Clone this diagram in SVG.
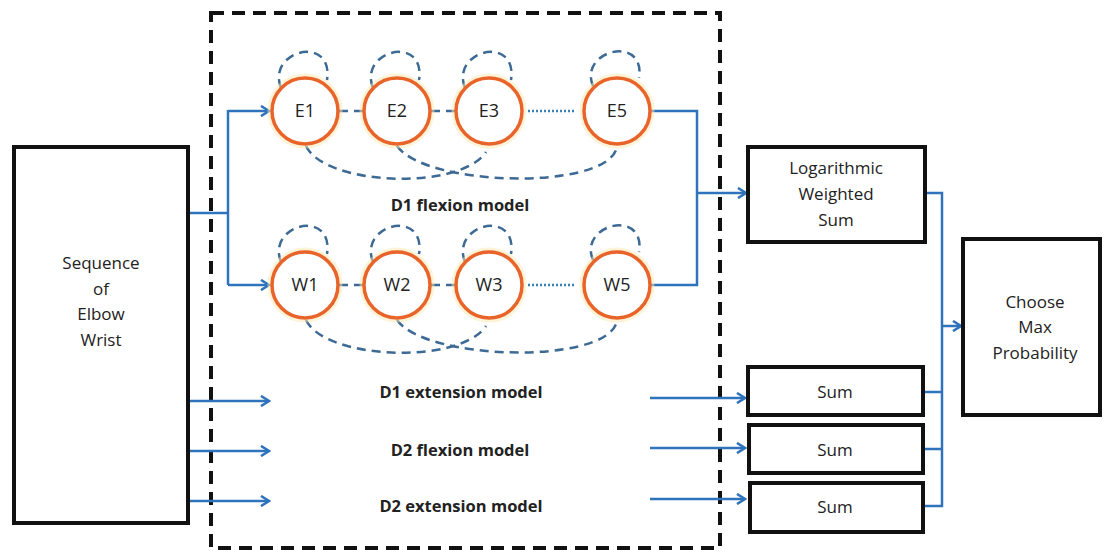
<svg xmlns="http://www.w3.org/2000/svg" width="1104" height="554" viewBox="0 0 1104 554">
<defs>
<marker id="arr" viewBox="0 0 12 12" refX="10" refY="6" markerWidth="12" markerHeight="12" markerUnits="userSpaceOnUse" orient="auto">
<path d="M2,1 L10,6 L2,11" fill="none" stroke="#2f73bd" stroke-width="2.6" stroke-linejoin="miter"/>
</marker>
</defs>
<style>
.box{fill:#fff;stroke:#111;stroke-width:4}
.frame{fill:none;stroke:#111;stroke-width:4;stroke-dasharray:13 8}
.st{fill:#fff;stroke:#e8642a;stroke-width:3.5}
.glow{fill:none;stroke:#fbe7b0;stroke-width:7;opacity:0.5}
.t{font-family:"Open Sans","Noto Sans",sans-serif;font-size:17px;fill:#222;text-anchor:middle}
.n{font-family:"Open Sans","Noto Sans",sans-serif;font-size:18px;fill:#222;text-anchor:middle}
.b{font-family:"Open Sans","Noto Sans",sans-serif;font-size:16.5px;font-weight:bold;fill:#222;text-anchor:middle}
.ln{fill:none;stroke:#2f73bd;stroke-width:2.5}
.ar{fill:none;stroke:#2f73bd;stroke-width:2.5;marker-end:url(#arr)}
.dl{fill:none;stroke:#3d6a94;stroke-width:2.5;stroke-dasharray:9 6}
.dt{fill:none;stroke:#3d7fb0;stroke-width:2.5;stroke-dasharray:2 2}
</style>
<rect class="frame" x="211" y="13" width="509" height="535"/>
<g id="connectors">
<path class="ln" d="M188,213 H228 M228,110 V285"/>
<path class="ar" d="M228,111 H269"/>
<path class="ar" d="M228,285 H269"/>
<path class="ln" d="M651,111 H697 V285 H651"/>
<path class="ar" d="M697,193 H746"/>
<path class="ar" d="M188,401 H269"/>
<path class="ar" d="M188,451 H269"/>
<path class="ar" d="M188,501 H269"/>
<path class="ar" d="M650,398 H745"/>
<path class="ar" d="M650,448 H745"/>
<path class="ar" d="M650,499 H745"/>
<path class="ln" d="M925,193 H942 V506 H923 M923,449 H942 M923,392 H942"/>
<path class="ar" d="M942,326 H961"/>
<path class="dl" d="M339,111 H364 M431,111 H456"/>
<path class="dt" d="M528,111 H574"/>
<path class="dl" d="M281,88 C266,50 334,34 327,80"/>
<path class="dl" d="M373,88 C358,50 426,34 419,80"/>
<path class="dl" d="M465,88 C450,50 518,34 511,80"/>
<path class="dl" d="M593,86 C578,50 646,34 639,78"/>
<path class="dl" d="M306,146 C325,186 460,191 486,152"/>
<path class="dl" d="M397,146 C425,186 600,191 616,150"/>
<path class="dl" d="M339,285 H364 M431,285 H456"/>
<path class="dt" d="M528,285 H574"/>
<path class="dl" d="M281,262 C266,224 334,208 327,254"/>
<path class="dl" d="M373,262 C358,224 426,208 419,254"/>
<path class="dl" d="M465,262 C450,224 518,208 511,254"/>
<path class="dl" d="M593,260 C578,224 646,208 639,252"/>
<path class="dl" d="M306,320 C325,360 460,365 486,326"/>
<path class="dl" d="M397,320 C425,360 600,365 616,324"/>
</g>
<g id="seq"><rect class="box" x="14" y="147" width="174" height="376"/>
<text class="t" x="101" y="269">Sequence</text><text class="t" x="101" y="295">of</text><text class="t" x="101" y="320">Elbow</text><text class="t" x="101" y="346">Wrist</text></g>
<g id="E1"><circle class="glow" cx="305" cy="111" r="34"/><circle class="st" cx="305" cy="111" r="33"/><text class="n" x="305" y="117">E1</text></g>
<g id="E2"><circle class="glow" cx="397" cy="111" r="34"/><circle class="st" cx="397" cy="111" r="33"/><text class="n" x="397" y="117">E2</text></g>
<g id="E3"><circle class="glow" cx="489" cy="111" r="34"/><circle class="st" cx="489" cy="111" r="33"/><text class="n" x="489" y="117">E3</text></g>
<g id="E5"><circle class="glow" cx="617" cy="111" r="34"/><circle class="st" cx="617" cy="111" r="33"/><text class="n" x="617" y="117">E5</text></g>
<g id="W1"><circle class="glow" cx="305" cy="285" r="34"/><circle class="st" cx="305" cy="285" r="33"/><text class="n" x="305" y="291">W1</text></g>
<g id="W2"><circle class="glow" cx="397" cy="285" r="34"/><circle class="st" cx="397" cy="285" r="33"/><text class="n" x="397" y="291">W2</text></g>
<g id="W3"><circle class="glow" cx="489" cy="285" r="34"/><circle class="st" cx="489" cy="285" r="33"/><text class="n" x="489" y="291">W3</text></g>
<g id="W5"><circle class="glow" cx="617" cy="285" r="34"/><circle class="st" cx="617" cy="285" r="33"/><text class="n" x="617" y="291">W5</text></g>
<g id="labels">
<text class="b" x="460" y="211">D1 flexion model</text>
<text class="b" x="461" y="398">D1 extension model</text>
<text class="b" x="460" y="456">D2 flexion model</text>
<text class="b" x="461" y="512">D2 extension model</text>
</g>
<g id="log"><rect class="box" x="748" y="147" width="177" height="95"/>
<text class="t" x="836" y="174">Logarithmic</text><text class="t" x="836" y="200">Weighted</text><text class="t" x="836" y="226">Sum</text></g>
<g id="sum1"><rect class="box" x="748" y="367" width="175" height="48"/><text class="t" x="835" y="398">Sum</text></g>
<g id="sum2"><rect class="box" x="749" y="425" width="174" height="48"/><text class="t" x="835" y="456">Sum</text></g>
<g id="sum3"><rect class="box" x="750" y="483" width="173" height="49"/><text class="t" x="835" y="513">Sum</text></g>
<g id="choose"><rect class="box" x="963" y="239" width="137" height="176"/>
<text class="t" x="1035" y="308">Choose</text><text class="t" x="1035" y="333">Max</text><text class="t" x="1035" y="359">Probability</text></g>
</svg>
